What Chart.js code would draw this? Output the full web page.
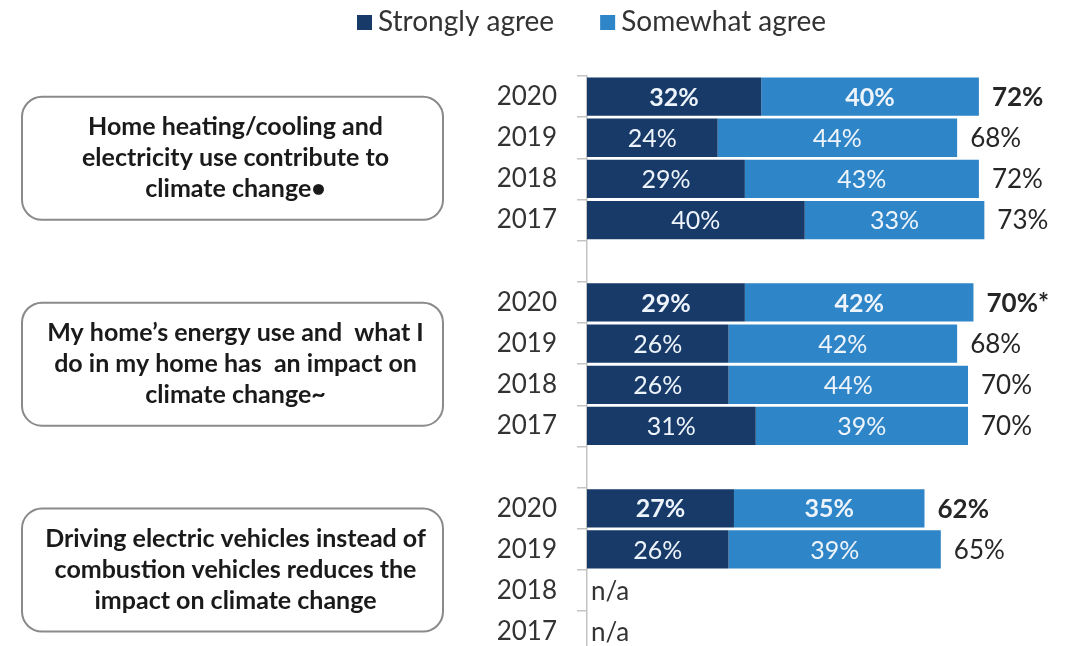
<!DOCTYPE html>
<html>
<head>
<meta charset="utf-8">
<script src="https://cdn.jsdelivr.net/npm/chart.js@4.4.1/dist/chart.umd.min.js"></script>
<style>
  html, body { margin: 0; padding: 0; background: #fff; overflow: hidden; }
  #wrap { position: relative; width: 1066px; height: 646px; overflow: hidden; }
  #chart { position: absolute; left: 0; top: 0; }
</style>
</head>
<body>
<div id="wrap"><canvas id="chart" width="1066" height="688"></canvas></div>
<script>
// Rows: three statements, four survey years each, blank spacer rows between
const years = ['2020', '2019', '2018', '2017'];
const rowLabels = [...years, '', ...years, '', ...years];

const stronglyAgree = [32, 24, 29, 40, null, 29, 26, 26, 31, null, 27, 26, null, null];
const somewhatAgree = [40, 44, 43, 33, null, 42, 42, 44, 39, null, 35, 39, null, null];
// reported totals (rounded separately, so 29 + 42 shows as 70)
const totals = [72, 68, 72, 73, null, 70, 68, 70, 70, null, 62, 65, null, null];
const totalMarks = ['', '', '', '', '', '*', '', '', '', '', '', '', '', ''];
const notAsked = [false, false, false, false, false, false, false, false, false, false, false, false, true, true];

const statements = [
    ['Home heating/cooling and', 'electricity use contribute to', 'climate change\u2022'],
    ['My home\u2019s energy use and  what I', 'do in my home has  an impact on', 'climate change~'],
    ['Driving electric vehicles instead of', 'combustion vehicles reduces the', 'impact on climate change']
];
const statementRows = [[0, 3], [5, 8], [10, 13]];

const COLORS = {
    strong: '#173a68',
    somewhat: '#2e85c7',
    axis: '#c4c4c4',
    text: '#333333',
    boxBorder: '#8a8a8a'
};
const FONT = 'Lato, "Open Sans", sans-serif';

// Legend, statement boxes and value labels
const annotate = {
    id: 'annotate',
    afterDatasetsDraw(chart) {
        const ctx = chart.ctx;
        const yScale = chart.scales.y;
        const area = chart.chartArea;
        const metas = [chart.getDatasetMeta(0), chart.getDatasetMeta(1)];

        ctx.save();
        ctx.textBaseline = 'middle';

        rowLabels.forEach((yr, i) => {
            const bold = yr === '2020';
            const y = yScale.getPixelForValue(i) + 1;
            let end = null;

            metas.forEach((meta, d) => {
                const v = chart.data.datasets[d].data[i];
                if (v == null) return;
                const bar = meta.data[i];
                const p = bar.getProps(['x', 'base'], true);
                ctx.font = (bold ? 'bold ' : '') + '25px ' + FONT;
                ctx.fillStyle = '#eef4fb';
                ctx.textAlign = 'center';
                ctx.fillText(v + '%', (p.x + p.base) / 2, y);
                end = p.x;
            });

            ctx.fillStyle = '#262626';
            ctx.textAlign = 'left';
            ctx.font = (bold ? 'bold ' : '') + '26px ' + FONT;
            if (totals[i] != null && end != null) {
                ctx.fillText(totals[i] + '%' + totalMarks[i], end + 13, y);
            } else if (notAsked[i]) {
                ctx.fillStyle = COLORS.text;
                ctx.fillText('n/a', area.left + 4, y);
            }
        });

        // statement boxes, centred on their group of rows
        statements.forEach((lines, g) => {
            const top = yScale.getPixelForValue(statementRows[g][0]);
            const bottom = yScale.getPixelForValue(statementRows[g][1]);
            const cy = (top + bottom) / 2;
            const bx = 22, bw = 421, bh = 123;
            ctx.beginPath();
            ctx.roundRect(bx, cy - bh / 2, bw, bh, 20);
            ctx.lineWidth = 2;
            ctx.strokeStyle = COLORS.boxBorder;
            ctx.stroke();

            ctx.fillStyle = '#1a1a1a';
            ctx.font = 'bold 25px ' + FONT;
            ctx.textAlign = 'center';
            lines.forEach((line, k) => {
                ctx.fillText(line, bx + bw / 2 + 3, cy + (k - 1) * 31);
            });
        });

        // legend
        let lx = 357;
        const ly = 22;
        ctx.font = '28px ' + FONT;
        ctx.textAlign = 'left';
        chart.data.datasets.forEach(ds => {
            ctx.fillStyle = ds.backgroundColor;
            ctx.fillRect(lx, ly - 7, 15, 15);
            ctx.fillStyle = COLORS.text;
            ctx.fillText(ds.label, lx + 21, ly);
            lx += 21 + ctx.measureText(ds.label).width + 46;
        });

        ctx.restore();
    }
};

new Chart(document.getElementById('chart'), {
    type: 'bar',
    data: {
        labels: rowLabels,
        datasets: [{
            label: 'Strongly agree',
            data: stronglyAgree,
            backgroundColor: COLORS.strong,
            categoryPercentage: 1,
            barPercentage: 0.93
        }, {
            label: 'Somewhat agree',
            data: somewhatAgree,
            backgroundColor: COLORS.somewhat,
            categoryPercentage: 1,
            barPercentage: 0.93
        }]
    },
    options: {
        indexAxis: 'y',
        responsive: false,
        animation: false,
        layout: {
            padding: { top: 76, bottom: 11, left: 0, right: 0 }
        },
        plugins: {
            legend: { display: false },
            tooltip: { enabled: false }
        },
        scales: {
            x: {
                stacked: true,
                display: false,
                min: 0,
                max: 88
            },
            y: {
                stacked: true,
                afterFit: (scale) => { scale.width = 587; },
                grid: {
                    offset: true,
                    drawOnChartArea: false,
                    tickLength: 10,
                    color: COLORS.axis,
                    lineWidth: 1.5
                },
                border: {
                    color: COLORS.axis,
                    width: 1.5
                },
                ticks: {
                    padding: 20,
                    color: COLORS.text,
                    font: { family: FONT, size: 26 }
                }
            }
        }
    },
    plugins: [annotate]
});
</script>
</body>
</html>
